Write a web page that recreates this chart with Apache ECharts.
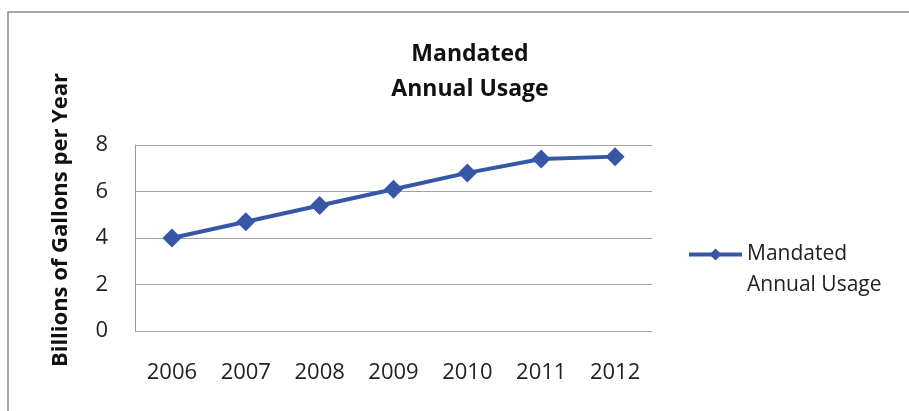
<!DOCTYPE html>
<html><head><meta charset="utf-8">
<script src="https://cdn.jsdelivr.net/npm/echarts@6/dist/echarts.min.js"></script>
<style>html,body{margin:0;padding:0;background:#fff}#c{width:909px;height:411px}</style>
</head><body><div id="c"></div>
<script>
const categories = ['2006','2007','2008','2009','2010','2011','2012'];
const usage = [4.0, 4.7, 5.4, 6.1, 6.8, 7.4, 7.5];
const seriesName = 'Mandated\nAnnual Usage';
const chart = echarts.init(document.getElementById('c'));
const font = '"Open Sans", "DejaVu Sans", sans-serif';
chart.setOption({
  animation: false,
  backgroundColor: '#fff',
  graphic: [{type:'rect', shape:{x:8,y:12,width:920,height:420}, style:{fill:'none', stroke:'#8a8a8a', lineWidth:1.5}}],
  title: {text: 'Mandated\nAnnual Usage', left: 465, textAlign: 'center', top: 32,
    textStyle: {fontFamily: font, fontSize: 23, fontWeight: 'bold', color: '#111', lineHeight: 35}},
  grid: {left: 135, right: 257, top: 145, bottom: 80},
  legend: {orient: 'vertical', left: 682, top: 203, itemWidth: 53, itemHeight: 15, itemGap: 4,
    formatter: function (name) { return '\u00a0\n' + name; },
    lineStyle: {width: 4},
    textStyle: {fontFamily: font, fontSize: 21, color: '#222', lineHeight: 31},
    data: [seriesName]},
  xAxis: {type: 'category', data: categories, boundaryGap: true,
    axisLine: {show: false}, axisTick: {show: false},
    axisLabel: {fontFamily: font, fontSize: 22, color: '#222', margin: 31}},
  yAxis: {type: 'value', min: 0, max: 8, interval: 2,
    name: 'Billions of Gallons per Year', nameLocation: 'middle', nameGap: 63, nameRotate: 90,
    nameTextStyle: {fontFamily: font, fontSize: 22, fontWeight: 'bold', color: '#111', padding: [0, 0, 0, 36]},
    axisLine: {show: true, lineStyle: {color: '#999'}}, axisTick: {show: false},
    axisLabel: {fontFamily: font, fontSize: 22, color: '#222', margin: 27},
    splitLine: {lineStyle: {color: '#a0a0a0', width: 1}}},
  series: [{name: seriesName, type: 'line', data: usage, symbol: 'diamond', symbolSize: 19,
    lineStyle: {color: '#3656a6', width: 4}, itemStyle: {color: '#3656a6'}}]
});
</script></body></html>
